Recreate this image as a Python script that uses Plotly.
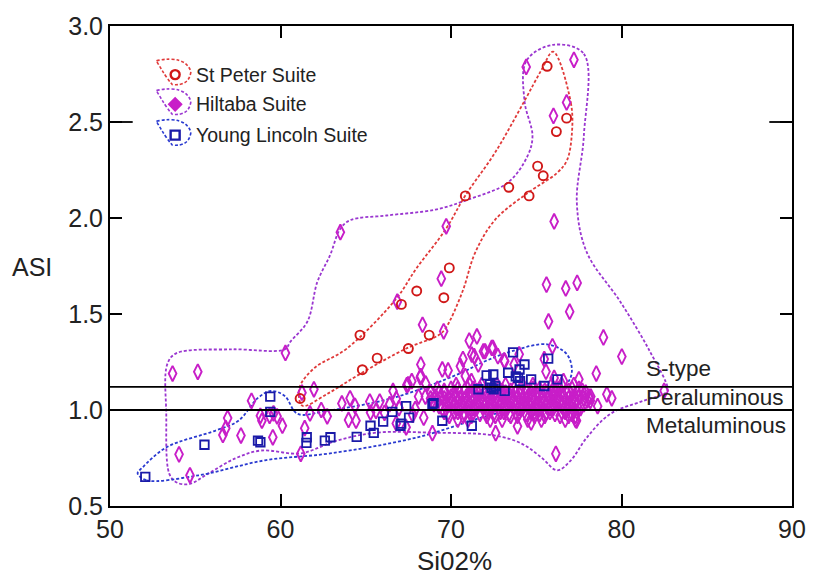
import plotly.graph_objects as go

# ---------------- data ----------------
# St Peter Suite (SiO2 %, ASI)
stpeter_x = [75.64, 76.78, 76.18, 75.08, 75.41, 73.39, 74.58, 70.84, 69.90, 67.99,
             69.58, 67.09, 68.72, 64.66, 67.50, 65.67, 64.80, 61.15]
stpeter_y = [2.79, 2.52, 2.45, 2.27, 2.22, 2.16, 2.115, 2.115, 1.74, 1.62,
             1.585, 1.55, 1.39, 1.39, 1.32, 1.27, 1.21, 1.06]

# Young Lincoln Suite
lincoln_x = [52.07, 55.54, 59.40, 59.40, 58.68, 58.82, 61.54, 61.52, 62.60, 62.93,
             64.47, 65.28, 65.47, 66.02, 66.56, 67.04, 67.37, 67.54, 68.91, 68.98,
             69.49, 71.22, 71.61, 72.09, 72.48, 73.35, 74.02, 74.31, 73.64, 75.70,
             72.29, 72.38, 72.50, 73.15, 73.93, 74.70, 76.24, 75.47, 67.08, 72.60,
             74.05, 73.80]
lincoln_y = [0.652, 0.819, 1.070, 0.990, 0.841, 0.832, 0.858, 0.829, 0.841, 0.858,
             0.860, 0.918, 0.881, 0.939, 0.990, 0.918, 1.020, 0.960, 1.030, 1.036,
             0.944, 0.918, 1.108, 1.180, 1.185, 1.194, 1.211, 1.237, 1.300, 1.268,
             1.134, 1.116, 1.108, 1.100, 1.168, 1.160, 1.160, 1.125, 0.929, 1.125,
             1.150, 1.175]

# Hiltaba Suite: scattered analyses
hiltaba_x = [74.41, 77.21, 76.78, 76.01, 76.05, 69.72, 63.51, 69.43, 75.60, 76.73,
             77.40, 66.85, 76.96, 75.72, 68.33, 69.57, 78.94, 80.02, 71.07, 71.52,
             72.39, 75.95, 71.22, 73.12, 71.36, 68.23, 68.23, 69.49, 69.83, 70.55,
             75.57, 78.52, 77.50, 79.14, 79.43, 82.50, 78.17, 76.15, 72.62, 68.91,
             77.36, 53.67, 55.15, 60.29, 61.26, 61.96, 58.30, 56.90, 56.79, 56.62,
             57.68, 54.05, 54.69, 58.82, 58.91, 59.36, 59.59, 59.80, 60.11, 59.55,
             61.42, 61.19, 61.73, 62.39, 62.74, 63.60, 64.08, 64.37, 63.99, 64.43,
             65.24, 65.28, 65.82, 66.79, 66.79, 67.41, 67.70, 67.37, 67.48, 68.52,
             66.60, 72.00, 72.46, 72.75, 73.70, 74.00, 71.60, 70.84, 71.20, 76.60,
             76.05, 71.90, 70.70, 68.20, 73.15, 75.47, 78.20, 77.30, 66.10, 66.40,
             67.90, 68.40, 65.60, 66.95, 67.75, 68.10, 78.60, 74.70, 73.90]
hiltaba_y = [2.787, 2.824, 2.602, 2.532, 1.982, 1.957, 1.926, 1.684, 1.653, 1.633,
             1.662, 1.564, 1.512, 1.461, 1.444, 1.410, 1.378, 1.278, 1.361, 1.383,
             1.323, 1.332, 1.289, 1.258, 1.280, 1.237, 1.177, 1.211, 1.206, 1.228,
             1.200, 1.190, 1.160, 1.082, 1.061, 1.100, 1.048, 0.772, 0.879, 0.879,
             0.944, 1.190, 1.199, 1.297, 1.090, 1.108, 1.048, 0.958, 0.905, 0.870,
             0.867, 0.769, 0.660, 0.970, 0.944, 0.970, 0.982, 0.967, 0.918, 0.858,
             0.905, 0.772, 0.982, 1.000, 0.967, 1.034, 1.061, 1.022, 0.948, 0.944,
             1.044, 0.987, 1.044, 1.058, 0.930, 1.130, 1.150, 0.910, 1.134, 1.137,
             1.099, 1.306, 1.323, 1.280, 1.237, 1.290, 1.237, 1.177, 1.150, 1.150,
             1.167, 1.306, 1.265, 1.170, 1.254, 1.265, 1.070, 0.970, 0.985, 1.030,
             1.005, 0.960, 0.995, 1.010, 0.975, 1.070, 1.020, 0.935, 0.915]

# Hiltaba Suite: densely clustered analyses, one list of SiO2 values per ASI level
core_asi = [1.13, 1.11, 1.10, 1.09, 1.07, 1.06, 1.05, 1.03, 1.02, 1.01, 0.99, 0.98, 0.97, 0.95]
core_sio2 = [
    [70.3, 71.1, 71.8, 72.7, 73.2, 74.2, 74.8, 75.9, 76.5, 77.2],
    [69.2, 70.0, 70.4, 71.3, 71.7, 72.4, 72.8, 73.7, 74.1, 74.8, 75.2, 76.0, 76.3, 77.1, 77.5],
    [69.6, 70.8, 71.5, 72.1, 73.0, 73.5, 74.4, 75.5, 76.1, 76.9, 77.7],
    [68.8, 69.3, 69.6, 70.2, 70.5, 71.1, 71.4, 72.0, 72.3, 72.9, 73.2, 73.8, 74.1, 74.7,
     75.0, 75.6, 75.9, 76.5, 76.8, 77.4, 77.9],
    [68.5, 69.1, 69.4, 70.0, 70.3, 70.9, 71.2, 71.8, 72.1, 72.7, 73.0, 73.6, 73.9, 74.5,
     74.8, 75.4, 75.7, 76.3, 76.6, 77.2, 77.5, 78.1],
    [68.8, 69.6, 70.5, 71.4, 72.4, 73.3, 74.2, 75.1, 76.0, 76.9, 77.8],
    [68.9, 69.2, 69.9, 70.1, 70.8, 71.0, 71.7, 71.9, 72.6, 72.8, 73.5, 73.7, 74.4, 74.6,
     75.3, 75.5, 76.2, 76.4, 77.1, 77.3, 78.0],
    [69.0, 69.7, 69.9, 70.6, 70.8, 71.5, 71.7, 72.4, 72.6, 73.3, 73.5, 74.2, 74.4, 75.1,
     75.3, 76.0, 76.2, 76.9, 77.1, 77.8],
    [69.3, 70.2, 71.0, 72.0, 72.9, 73.8, 74.6, 75.6, 76.5, 77.4],
    [69.5, 69.7, 70.4, 70.6, 71.3, 71.5, 72.2, 72.4, 73.1, 73.3, 74.0, 74.2, 74.9, 75.1,
     75.8, 76.0, 76.7, 76.9, 77.6],
    [69.6, 70.2, 70.4, 71.1, 71.3, 72.0, 72.2, 72.9, 73.1, 73.8, 74.0, 74.7, 74.9, 75.6,
     75.8, 76.5, 76.7, 77.4],
    [69.8, 70.8, 71.7, 72.5, 73.4, 74.4, 75.2, 76.1, 77.1],
    [69.9, 70.7, 71.2, 72.1, 72.6, 73.5, 73.9, 74.9, 75.5, 76.4, 76.9],
    [70.4, 71.0, 72.3, 73.0, 74.5, 75.3, 76.7, 77.3],
]

# Field envelopes (closed outlines) for each suite
stpeter_env_x = [75.99, 77.03, 77.09, 76.80, 76.22, 74.49, 72.58, 71.42, 70.67, 69.68,
                 69.28, 67.37, 64.65, 62.74, 61.29, 61.11, 61.98, 63.89, 66.79, 67.95,
                 69.68, 70.84, 72.58, 74.31, 75.30, 75.99]
stpeter_env_y = [2.866, 2.60, 2.44, 2.30, 2.235, 2.13, 1.99, 1.82, 1.616, 1.425,
                 1.39, 1.32, 1.187, 1.084, 1.022, 1.115, 1.218, 1.32, 1.58, 1.735,
                 1.94, 2.117, 2.34, 2.61, 2.77, 2.866]

hiltaba_env_x = [75.99, 77.79, 77.79, 77.38, 77.96, 79.93, 81.66, 82.71, 82.59, 81.26,
                 79.35, 77.96, 77.03, 76.22, 75.30, 74.14, 72.58, 68.93, 65.63, 63.31,
                 61.17, 58.86, 57.35, 55.79, 54.63, 53.88, 53.47, 53.30, 53.36, 53.88,
                 57.12, 60.25, 60.59, 61.58, 62.16, 62.91, 63.49, 64.07, 66.21, 69.10,
                 71.01, 73.33, 74.49, 74.78, 74.31, 74.43, 75.99]
hiltaba_env_y = [2.902, 2.855, 2.427, 2.08, 1.822, 1.564, 1.306, 1.11, 1.089, 1.047,
                 0.98, 0.856, 0.738, 0.686, 0.753, 0.825, 0.867, 0.882, 0.882, 0.841,
                 0.774, 0.789, 0.748, 0.67, 0.614, 0.624, 0.67, 0.98, 1.239, 1.295,
                 1.316, 1.316, 1.357, 1.461, 1.667, 1.807, 1.941, 1.988, 2.013, 2.044,
                 2.096, 2.184, 2.323, 2.427, 2.61, 2.82, 2.902]

lincoln_env_x = [51.62, 52.14, 55.21, 59.09, 62.91, 67.95, 72.58, 75.64, 76.80, 77.09,
                 76.80, 75.64, 73.56, 72.00, 70.43, 66.61, 62.74, 61.00, 60.25, 59.44,
                 58.68, 57.53, 56.19, 53.30, 51.91, 51.62]
lincoln_env_y = [0.670, 0.634, 0.660, 0.738, 0.774, 0.856, 0.980, 1.032, 1.135, 1.200,
                 1.290, 1.342, 1.306, 1.254, 1.187, 1.063, 0.996, 0.980, 1.073, 1.099,
                 1.063, 0.944, 0.893, 0.805, 0.701, 0.670]

# Classification boundaries (ASI)
boundaries = [1.0, 1.12]
field_labels = ["S-type", "Peraluminous", "Metaluminous"]
suites = ["St Peter Suite", "Hiltaba Suite", "Young Lincoln Suite"]

x_ticks = [50, 60, 70, 80, 90]
y_ticks = [0.5, 1.0, 1.5, 2.0, 2.5, 3.0]

# ---------------- styling ----------------
RED, RED_LINE = "#D01818", "#E03A3A"
MAG, MAG_LINE = "#C81EC8", "#9A36D0"
BLUE, BLUE_LINE = "#1A1AA8", "#2A3AD0"
FONT = "Liberation Sans, Arial, sans-serif"

# plot area in pixels
L, R, T, B = 110, 801, 22, 506
W, H = 818, 583


def paper(px, py):
    return (px - L) / (R - L), (B - py) / (B - T)


hx, hy = list(hiltaba_x), list(hiltaba_y)
for asi, row in zip(core_asi, core_sio2):
    hx.extend(row)
    hy.extend([asi] * len(row))

fig = go.Figure()

env_style = dict(mode="lines", line_shape="spline", hoverinfo="skip", showlegend=False)
fig.add_trace(go.Scatter(x=hiltaba_env_x, y=hiltaba_env_y,
                         line=dict(color=MAG_LINE, width=1.8, dash="3px,2px", smoothing=1.0),
                         **env_style))
fig.add_trace(go.Scatter(x=stpeter_env_x, y=stpeter_env_y,
                         line=dict(color=RED_LINE, width=1.8, dash="3px,2px", smoothing=1.0),
                         **env_style))
fig.add_trace(go.Scatter(x=lincoln_env_x, y=lincoln_env_y,
                         line=dict(color=BLUE_LINE, width=1.8, dash="3px,2px", smoothing=1.0),
                         **env_style))

fig.add_trace(go.Scatter(x=hx, y=hy, mode="markers", name=suites[1], showlegend=False,
                         marker=dict(symbol="diamond-tall-open", size=11, color=MAG,
                                     line=dict(width=1.9, color=MAG))))
fig.add_trace(go.Scatter(x=lincoln_x, y=lincoln_y, mode="markers", name=suites[2], showlegend=False,
                         marker=dict(symbol="square-open", size=8.5, color=BLUE,
                                     line=dict(width=1.8, color=BLUE))))
fig.add_trace(go.Scatter(x=stpeter_x, y=stpeter_y, mode="markers", name=suites[0], showlegend=False,
                         marker=dict(symbol="circle-open", size=9, color=RED,
                                     line=dict(width=1.9, color=RED))))

# boundary lines
for b in boundaries:
    fig.add_shape(type="line", xref="x", yref="y", x0=50, x1=90, y0=b, y1=b,
                  line=dict(color="black", width=1.8))

# longer ticks at ASI 2.5 on both sides
for xp0, xp1 in [(0, 23 / (R - L)), (1 - 23 / (R - L), 1)]:
    fig.add_shape(type="line", xref="paper", yref="y", x0=xp0, x1=xp1, y0=2.5, y1=2.5,
                  line=dict(color="black", width=1.8))

# key: small dashed outlines with a symbol and a label
key_rows = [(71, RED_LINE, RED, "circle-open"), (101, MAG_LINE, MAG, "diamond"),
            (132, BLUE_LINE, BLUE, "square-open")]
for (cy, lc, mc, sym), name in zip(key_rows, suites):
    pts = [(157, cy - 14), (186, cy - 20), (192, cy - 3), (190, cy + 12), (173, cy + 10),
           (166, cy + 2), (157, cy - 14)]
    p = [paper(a, b) for a, b in pts]
    path = (f"M {p[0][0]},{p[0][1]} Q {p[1][0]},{p[1][1]} {p[2][0]},{p[2][1]} "
            f"Q {p[3][0]},{p[3][1]} {p[4][0]},{p[4][1]} "
            f"Q {p[5][0]},{p[5][1]} {p[6][0]},{p[6][1]} Z")
    fig.add_shape(type="path", xref="paper", yref="paper", path=path,
                  line=dict(color=lc, width=1.6, dash="3px,2px"))
    mx = 50 + (176 - L) / (R - L) * 40
    my = 3.0 - (cy - T) / (B - T) * 2.5
    fig.add_trace(go.Scatter(x=[mx], y=[my], mode="markers", showlegend=False, hoverinfo="skip",
                             cliponaxis=False,
                             marker=dict(symbol=sym, size=9, color=mc, line=dict(width=2.4, color=mc))))
    ax, ay = paper(195, cy)
    fig.add_annotation(x=ax, y=ay, xref="paper", yref="paper", text=name, showarrow=False,
                       xanchor="left", yanchor="middle", font=dict(size=19.5, color="#222"))

# field names
for name, cy in zip(field_labels, [367, 397, 425]):
    ax, ay = paper(651, cy)
    fig.add_annotation(x=ax, y=ay, xref="paper", yref="paper", text=name, showarrow=False,
                       xanchor="left", yanchor="middle", font=dict(size=22.5, color="#222"))

# axis titles
ax, ay = paper(31, 265)
fig.add_annotation(x=ax, y=ay, xref="paper", yref="paper", text="ASI", showarrow=False,
                   xanchor="center", yanchor="middle", font=dict(size=25, color="#222"))
ax, ay = paper(459, 561)
fig.add_annotation(x=ax, y=ay, xref="paper", yref="paper", text="Si02%", showarrow=False,
                   xanchor="center", yanchor="middle", font=dict(size=26, color="#222"))

axis_common = dict(showgrid=False, zeroline=False, showline=True, linecolor="black", linewidth=2,
                   mirror="ticks", ticks="inside", ticklen=12, tickwidth=1.8, tickcolor="black",
                   tickfont=dict(size=25, color="#222", family=FONT))
fig.update_xaxes(range=[50, 90], tickvals=x_ticks, ticktext=[str(v) for v in x_ticks], **axis_common)
fig.update_yaxes(range=[0.5, 3.0], tickvals=y_ticks, ticktext=[f"{v:.1f}" for v in y_ticks],
                 **axis_common)

fig.update_layout(width=W, height=H, margin=dict(l=L, r=W - R, t=T, b=H - B),
                  plot_bgcolor="white", paper_bgcolor="white",
                  font=dict(family=FONT, color="#222"), showlegend=False)

fig.write_html("out.html")
